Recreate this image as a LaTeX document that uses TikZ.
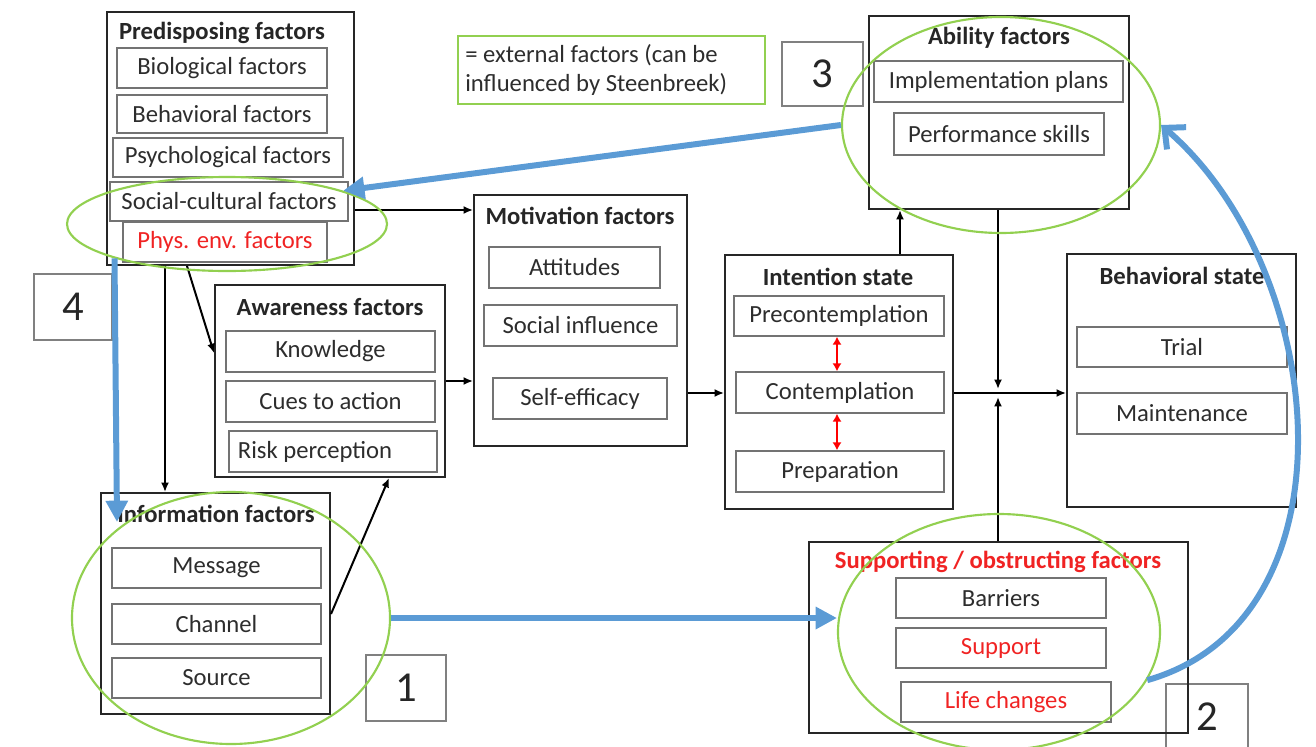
\documentclass[tikz,border=0pt]{standalone}
\usepackage{fontspec}
\setmainfont{Carlito}
\usetikzlibrary{shapes.geometric,fit,arrows.meta}
\definecolor{lgreen}{RGB}{146,208,80}
\definecolor{mblue}{RGB}{91,155,213}
\definecolor{txt}{RGB}{45,45,45}
\definecolor{redt}{RGB}{240,35,35}
\begin{document}
\begin{tikzpicture}[x=0.75pt,y=-0.75pt,
  outer/.style={draw=black!85, line width=1.5pt, inner sep=0pt},
  lab/.style={font=\fontsize{18.5}{20}\selectfont, text=txt, inner sep=0pt},
  labr/.style={lab, text=redt},
  sub/.style={draw=black!55, line width=1.1pt, inner sep=0pt, label={[lab]center:#1}},
  subr/.style={draw=black!55, line width=1.1pt, inner sep=0pt, label={[labr]center:#1}},
  ttl/.style={font=\fontsize{18.5}{20}\selectfont\bfseries, text=black!85, inner sep=0pt},
  numbox/.style={draw=black!50, line width=1pt, inner sep=0pt, label={[font=\fontsize{32}{34}\selectfont, text=black!85, inner sep=0pt]center:#1}},
  grn/.style={draw=lgreen, line width=1.6pt, ellipse, inner sep=0pt},
  blu/.style={draw=mblue, line width=4.5pt, -{Triangle[length=16pt,width=16pt]}},
  blk/.style={draw=black, line width=1.5pt, -{Latex[length=7pt,width=6pt]}},
  redarr/.style={draw=red, line width=2.2pt, {Latex[length=6pt,width=7pt]}-{Latex[length=6pt,width=7pt]}}
]
\useasboundingbox (0,0) rectangle (1316,746);

% Predisposing
\node[outer, fit={(107,12) (354,265)}] (pre) {};
\node[ttl] (preT) at (222,33) {Predisposing factors};
\node[sub={Biological factors}, fit={(117,48) (327,88)}] (bio) {};
\node[sub={Behavioral factors}, fit={(117,95) (327,133)}] (beh) {};
\node[sub={Psychological factors}, fit={(113,138) (343,177)}] (psy) {};
\node[sub={Social-cultural factors}, fit={(110,182) (348,221)}] (soc) {};
\node[subr={Phys. env. factors}, fit={(123,222) (327,262)}] (phys) {};

% Legend
\node[draw=lgreen, line width=1.5pt, inner sep=0pt, fit={(458,36) (765,104)}] (leg) {};
\node[anchor=west, align=left, font=\fontsize{18.5}{22}\selectfont, text=txt, inner sep=0pt] (legT) at (465,70) {= external factors (can be\\influenced by Steenbreek)};

% number boxes
\node[numbox=3, fit={(782,42) (863,106)}] (n3) {};
\node[numbox=4, fit={(34,274) (112,340)}] (n4) {};
\node[numbox=1, fit={(366,655) (446,721)}] (n1) {};
\node[numbox=2, fit={(1166,684) (1248,750)}] (n2) {};

% Ability
\node[outer, fit={(869,16) (1129,209)}] (abil) {};
\node[ttl] (abilT) at (999,38) {Ability factors};
\node[sub={Implementation plans}, fit={(874,61) (1123,102)}] (impl) {};
\node[sub={Performance skills}, fit={(894,113) (1104,155)}] (perf) {};

% Motivation
\node[outer, fit={(474,195) (687,446)}] (mot) {};
\node[ttl] (motT) at (580,216) {Motivation factors};
\node[sub={Attitudes}, fit={(489,247) (660,288)}] (att) {};
\node[sub={Social influence}, fit={(484,305) (677,346)}] (sinf) {};
\node[sub={Self-efficacy}, fit={(493,378) (667,419)}] (seff) {};

% Intention
\node[outer, fit={(725,255) (953,509)}] (int) {};
\node[ttl] (intT) at (838,277) {Intention state};
\node[sub={Precontemplation}, fit={(734,296) (944,336)}] (prec) {};
\node[sub={Contemplation}, fit={(736,372) (944,413)}] (cont) {};
\node[sub={Preparation}, fit={(736,451) (944,492)}] (prep) {};

% Behavioral state
\node[outer, fit={(1067,254) (1296,507)}] (bst) {};
\node[ttl] (bstT) at (1182,276) {Behavioral state};
\node[sub={Trial}, fit={(1077,327) (1287,367)}] (trial) {};
\node[sub={Maintenance}, fit={(1077,393) (1287,434)}] (maint) {};

% Awareness
\node[outer, fit={(215,285) (445,477)}] (aware) {};
\node[ttl] (awareT) at (330,307) {Awareness factors};
\node[sub={Knowledge}, fit={(226,331) (435,372)}] (know) {};
\node[sub={Cues to action}, fit={(226,381) (435,422)}] (cues) {};
\node[draw=black!55, line width=1.1pt, inner sep=0pt, fit={(229,431) (437,472)}, label={[lab, anchor=west, xshift=7pt]west:Risk perception}] (risk) {};

% Information
\node[outer, fit={(101,493) (330,714)}] (info) {};
\node[ttl] (infoT) at (216,514) {Information factors};
\node[sub={Message}, fit={(112,548) (321,588)}] (msg) {};
\node[sub={Channel}, fit={(112,604) (321,644)}] (chan) {};
\node[sub={Source}, fit={(112,658) (321,698)}] (src) {};

% Supporting
\node[outer, fit={(809,542) (1188,733)}] (sup) {};
\node[ttl, text=redt] (supT) at (998,562) {Supporting / obstructing factors};
\node[sub={Barriers}, fit={(896,578) (1106,618)}] (barr) {};
\node[subr={Support}, fit={(896,628) (1106,668)}] (supp) {};
\node[subr={Life changes}, fit={(901,682) (1111,722)}] (life) {};

% black connectors
\coordinate (jn) at (998,393);
\draw[blk] (pre.east |- 0,210) -- (mot.west |- 0,210);
\draw[blk] (pre.south -| 165,0) -- (info.north -| 165,0);
\draw[blk] (pre.south -| 187,0) -- (aware.west |- 0,353);
\draw[blk] (aware.east |- 0,381) -- (mot.west |- 0,381);
\draw[blk] (info.east |- 0,614) -- (aware.south -| 389,0);
\draw[blk] (mot.east |- 0,393) -- (int.west |- 0,393);
\draw[blk] (int.north -| 900,0) -- (abil.south -| 900,0);
\draw[blk] (int.east |- jn) -- (bst.west |- jn);
\draw[blk] (abil.south -| jn) -- ([yshift=3pt]jn);
\draw[blk] (sup.north -| jn) -- ([yshift=-3pt]jn);
\draw[redarr] (prec.south -| 837,0) -- (cont.north -| 837,0);
\draw[redarr] (cont.south -| 837,0) -- (prep.north -| 837,0);

% green ellipses
\node[grn, minimum width=240pt, minimum height=70.5pt] (epre) at (227,224) {};
\node[grn, minimum width=238.5pt, minimum height=189pt] (einfo) at (231,618) {};
\node[grn, minimum width=241.5pt, minimum height=177pt] (esup) at (999,632) {};
\node[grn, minimum width=238.5pt, minimum height=162pt] (eab) at (1001,125) {};

% blue arrows
\coordinate (a4end) at (117,522);
\draw[blu] (einfo.east) -- (einfo.east -| esup.west);
\draw[blu] (eab.west) -- (epre.16);
\draw[blu] (epre.197) -- (a4end);
\draw[draw=mblue, line width=4.5pt, -{Straight Barb[length=12pt,width=22pt,line width=4.5pt]}] (esup.-18) .. controls (1360,620) and (1330,270) .. (eab.east);
\end{tikzpicture}
\end{document}
